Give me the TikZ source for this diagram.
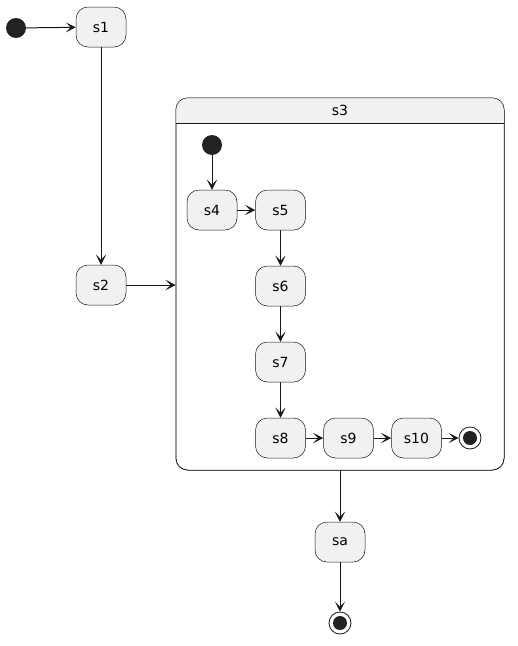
\documentclass[tikz,border=0pt]{standalone}
\usepackage{fontspec}
\setmainfont{DejaVu Sans}
\usepackage{xcolor}
\usepackage{tikz}
\usetikzlibrary{arrows.meta}

\definecolor{statefill}{HTML}{F1F1F1}
\definecolor{linec}{HTML}{181818}
\definecolor{dotc}{HTML}{222222}

\begin{document}
\begin{tikzpicture}[x=1pt,y=-1pt,
  font=\fontsize{14}{16}\selectfont,
  state/.style={draw=linec, fill=statefill, line width=0.5pt, rounded corners=12pt,
    minimum width=50pt, minimum height=40pt, inner sep=0pt},
  initial/.style={circle, fill=dotc, minimum size=20pt, inner sep=0pt},
  final/.style={circle, draw=linec, fill=white, line width=0.8pt, minimum size=22pt, inner sep=0pt,
    path picture={\fill[dotc] (path picture bounding box.center) circle (7pt);}},
  trans/.style={draw=linec, line width=1pt, -{Stealth[length=10pt,width=10pt,inset=5pt]}}]
\useasboundingbox (0,0) rectangle (518,646);

\node [initial] (start) at (16,28) {};
\node [state] (s1) at (101,27) {s1};
\node [state] (s2) at (101,285) {s2};

% composite state
\node [draw=linec, fill=white, line width=0.5pt, rounded corners=12pt,
  minimum width=328pt, minimum height=372pt] (s3) at (340,284) {};
\begin{scope}
\clip (s3.north west) rectangle (s3.east |- 0,123);
\fill [statefill, rounded corners=12pt] (s3.north west) rectangle (s3.south east);
\end{scope}
\draw [linec, line width=0.5pt, rounded corners=12pt] (s3.north west) rectangle (s3.south east);
\draw [linec, line width=0.5pt] (s3.west |- 0,123) -- (s3.east |- 0,123);
\node (s3title) at (340,110) {s3};

\node [initial] (istart) at (212,145) {};
\node [state] (s4) at (212,210) {s4};
\node [state] (s5) at (280.5,210) {s5};
\node [state] (s6) at (280.5,286) {s6};
\node [state] (s7) at (280.5,362) {s7};
\node [state] (s8) at (280.5,438) {s8};
\node [state] (s9) at (348.5,438) {s9};
\node [state] (s10) at (416.5,438) {s10};
\node [final] (iend) at (470,438) {};

\node [state] (sa) at (340,542) {sa};
\node [final] (fin) at (340,623) {};

\draw [trans] (start) -- (s1);
\draw [trans] (s1) -- (s2);
\draw [trans] (s2) -- (s2 -| s3.west);
\draw [trans] (istart) -- (s4);
\draw [trans] (s4) -- (s5);
\draw [trans] (s5) -- (s6);
\draw [trans] (s6) -- (s7);
\draw [trans] (s7) -- (s8);
\draw [trans] (s8) -- (s9);
\draw [trans] (s9) -- (s10);
\draw [trans] (s10) -- (iend);
\draw [trans] (s3.south) -- (sa);
\draw [trans] (sa) -- (fin);

\end{tikzpicture}
\end{document}
